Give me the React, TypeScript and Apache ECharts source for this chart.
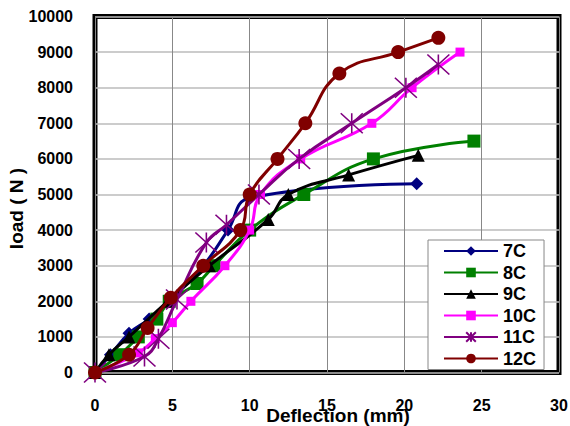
import React, { useEffect, useRef } from "react";
import * as echarts from "echarts";

const seriesNames = ["7C", "8C", "9C", "10C", "11C", "12C"];
const seriesColors = ["#000080", "#008000", "#000000", "#FF00FF", "#800080", "#800000"];

const data7C: [number, number][] = [[0, 0], [1.0, 500], [2.2, 1100], [3.5, 1500], [5.0, 2100], [7.0, 3000], [8.6, 4000], [10.0, 4900], [20.8, 5300]];
const data8C: [number, number][] = [[0, 0], [1.6, 500], [2.8, 1000], [4.0, 1500], [4.8, 2000], [6.6, 2500], [7.7, 3000], [10.0, 4000], [13.5, 5000], [18.0, 6000], [24.5, 6500]];
const data9C: [number, number][] = [[0, 0], [0.9, 500], [2.2, 1000], [4.7, 2000], [7.4, 3000], [11.2, 4300], [12.5, 5000], [16.4, 5550], [20.9, 6100]];
const data10C: [number, number][] = [[0, 0], [2.8, 550], [3.9, 950], [5.0, 1400], [6.2, 2000], [8.4, 3000], [10.0, 4000], [10.7, 5000], [13.3, 6000], [17.9, 7000], [20.5, 8000], [23.6, 9000]];
const data11C: [number, number][] = [[0, 0], [3.2, 450], [4.1, 950], [5.3, 2050], [7.2, 3650], [8.5, 4150], [10.6, 5000], [13.2, 6000], [16.6, 7000], [20.1, 8000], [22.2, 8650]];
const data12C: [number, number][] = [[0, 0], [2.2, 500], [3.4, 1250], [4.9, 2100], [7.0, 3000], [9.4, 4000], [10.0, 5000], [11.8, 6000], [13.6, 7000], [15.8, 8400], [19.6, 9000], [22.2, 9400]];

const allData = [data7C, data8C, data9C, data10C, data11C, data12C];

const asterisk = "path://M0,0 L20,20 M20,0 L0,20 M10,0 L10,20";
const symbols = ["diamond", "rect", "triangle", "rect", asterisk, "circle"];
const symbolSizes = [13, 13, 13, 9, [22, 20], 14];

const FONT = "'Liberation Sans', Arial, sans-serif";

export default function App() {
  const ref = useRef<HTMLDivElement>(null);
  useEffect(() => {
    if (!ref.current) return;
    const chart = echarts.init(ref.current, undefined, { renderer: "svg" });
    const series = seriesNames.map((name, i) => ({
      name,
      type: "line",
      data: allData[i],
      smooth: 0.45,
      symbol: symbols[i],
      symbolSize: symbolSizes[i],
      showAllSymbol: true,
      lineStyle: { color: seriesColors[i], width: 3 },
      itemStyle:
        i === 4
          ? { color: "rgba(0,0,0,0)", borderColor: seriesColors[i], borderWidth: 1.5 }
          : { color: seriesColors[i] },
      emphasis: { disabled: true },
      z: 2 + i,
    }));
    chart.setOption({
      animation: false,
      backgroundColor: "#ffffff",
      textStyle: { fontFamily: FONT },
      grid: {
        left: 95,
        right: 11,
        top: 16.5,
        bottom: 53.5,
        containLabel: false,
        outerBoundsMode: "none",
        show: true,
        borderColor: "#000",
        borderWidth: 5,
        backgroundColor: "rgba(0,0,0,0)",
      },
      legend: {
        left: 428,
        top: 240,
        orient: "vertical",
        backgroundColor: "#fff",
        borderColor: "#888",
        borderWidth: 1,
        padding: [2, 8, 2, 15],
        itemWidth: 54,
        itemHeight: 12,
        itemGap: 3.5,
        textStyle: { fontFamily: FONT, fontSize: 18, fontWeight: "bold", color: "#000", lineHeight: 18, padding: [0, 0, 0, 0] },
        data: seriesNames,
      },
      xAxis: {
        type: "value",
        min: 0,
        max: 30,
        interval: 5,
        name: "Deflection (mm)",
        nameLocation: "middle",
        nameGap: 33,
        nameMoveOverlap: false,
        nameTextStyle: { fontFamily: FONT, fontSize: 19, fontWeight: "bold", color: "#000", padding: [0, 0, 0, 22] },
        axisLine: { show: false },
        axisTick: { show: false },
        axisLabel: { fontFamily: FONT, fontSize: 16, fontWeight: "bold", color: "#000", margin: 25, formatter: (v: number) => String(v) },
        splitLine: { show: true, lineStyle: { color: "#888", width: 1 } },
      },
      yAxis: {
        type: "value",
        min: 0,
        max: 10000,
        interval: 1000,
        name: "load ( N )",
        nameLocation: "middle",
        nameGap: 69,
        nameMoveOverlap: false,
        nameTextStyle: { fontFamily: FONT, fontSize: 19, fontWeight: "bold", color: "#000", padding: [0, 28, 0, 0] },
        axisLine: { show: false },
        axisTick: { show: false },
        axisLabel: { fontFamily: FONT, fontSize: 16, fontWeight: "bold", color: "#000", margin: 22, formatter: (v: number) => String(v) },
        splitLine: { show: true, lineStyle: { color: "#bbb", width: 1.5 } },
      },
      series,
    });
    return () => chart.dispose();
  }, []);
  return <div ref={ref} style={{ width: 570, height: 426, position: "absolute", left: 0, top: 0 }} />;
}
